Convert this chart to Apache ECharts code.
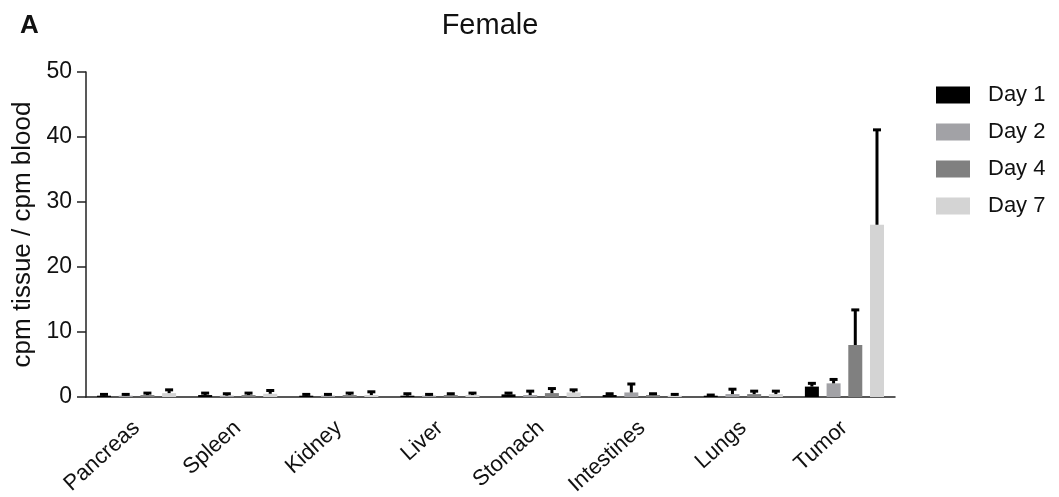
<!DOCTYPE html>
<html><head><meta charset="utf-8">
<script src="https://cdn.jsdelivr.net/npm/echarts@6/dist/echarts.min.js"></script>
<style>html,body{margin:0;padding:0;background:#fff}#c{width:1059px;height:497px}</style>
</head><body><div id="c"></div>
<script>
const categories = ['Pancreas','Spleen','Kidney','Liver','Stomach','Intestines','Lungs','Tumor'];
const seriesNames = ['Day 1','Day 2','Day 4','Day 7'];
const day1 = [0.2,0.3,0.2,0.2,0.4,0.3,0.2,1.6];
const day2 = [0.2,0.2,0.2,0.2,0.3,0.7,0.45,2.1];
const day4 = [0.3,0.3,0.3,0.3,0.6,0.3,0.45,8.0];
const day7 = [0.6,0.5,0.3,0.3,0.7,0.2,0.45,26.5];
const day1Err = [0.4,0.6,0.4,0.5,0.6,0.5,0.3,2.1];
const day2Err = [0.4,0.5,0.4,0.4,0.9,2.0,1.2,2.7];
const day4Err = [0.6,0.6,0.6,0.5,1.3,0.5,0.9,13.4];
const day7Err = [1.1,1.0,0.8,0.6,1.1,0.4,0.9,41.1];
const yTicks = [0,10,20,30,40,50];

const values = [day1,day2,day4,day7];
const errs = [day1Err,day2Err,day4Err,day7Err];
const colors = ['#000000','#a2a2a6','#808080','#d4d4d4'];
const BAR_W = 14, GAP = 0.55;
const FONT = 'Liberation Sans';

const series = [];
values.forEach((v,i)=>{
  series.push({name:seriesNames[i],type:'bar',data:v,barWidth:BAR_W,barGap:(GAP*100)+'%',
    itemStyle:{color:colors[i]},z:2});
});
errs.forEach((e,i)=>{
  series.push({type:'custom',z:3,silent:true,
    data:e.map((hi,k)=>[k,values[i][k],hi]),
    renderItem:function(params,api){
      const k=api.value(0);
      const base=api.coord([k,api.value(1)]);
      const top=api.coord([k,api.value(2)]);
      const x=base[0]+(i-1.5)*BAR_W*(1+GAP);
      return {type:'group',children:[
        {type:'line',shape:{x1:x,y1:base[1],x2:x,y2:top[1]},style:{stroke:'#000',lineWidth:3}},
        {type:'line',shape:{x1:x-4,y1:top[1],x2:x+4,y2:top[1]},style:{stroke:'#000',lineWidth:3}}
      ]};
    }});
});

const chart = echarts.init(document.getElementById('c'));
chart.setOption({
  animation:false,
  backgroundColor:'#fff',
  title:[
    {text:'Female',left:485,top:6,textAlign:'center',textStyle:{fontFamily:FONT,fontSize:29,fontWeight:'normal',color:'#111'}},
    {text:'A',left:15,top:8,textStyle:{fontFamily:FONT,fontSize:26,fontWeight:'bold',color:'#111'}}
  ],
  legend:{data:seriesNames,orient:'vertical',left:931,top:79,itemWidth:34,itemHeight:17,itemGap:15,
    icon:'rect',
    textStyle:{fontFamily:FONT,fontSize:22,color:'#111',padding:[0,0,0,13]}},
  grid:{left:86,right:164,top:72,bottom:100,containLabel:false,outerBoundsMode:'none'},
  xAxis:{type:'category',data:categories,boundaryGap:true,
    axisLine:{lineStyle:{color:'#222',width:1.5}},
    axisTick:{alignWithLabel:true,length:10,lineStyle:{color:'#222',width:1.5}},
    axisLabel:{rotate:42,fontFamily:FONT,fontSize:22,color:'#111',margin:28}},
  yAxis:{type:'value',min:0,max:50,interval:10,
    name:'cpm tissue / cpm blood',nameLocation:'middle',nameGap:46,
    nameTextStyle:{fontFamily:FONT,fontSize:26,color:'#111'},
    axisLine:{show:true,lineStyle:{color:'#222',width:1.5}},
    axisTick:{show:true,length:9,lineStyle:{color:'#222',width:1.5}},
    splitLine:{show:false},
    axisLabel:{fontFamily:FONT,fontSize:23,color:'#111',margin:14,
      formatter:v=>yTicks.includes(v)?String(v):''}},
  series:series
});
</script></body></html>
